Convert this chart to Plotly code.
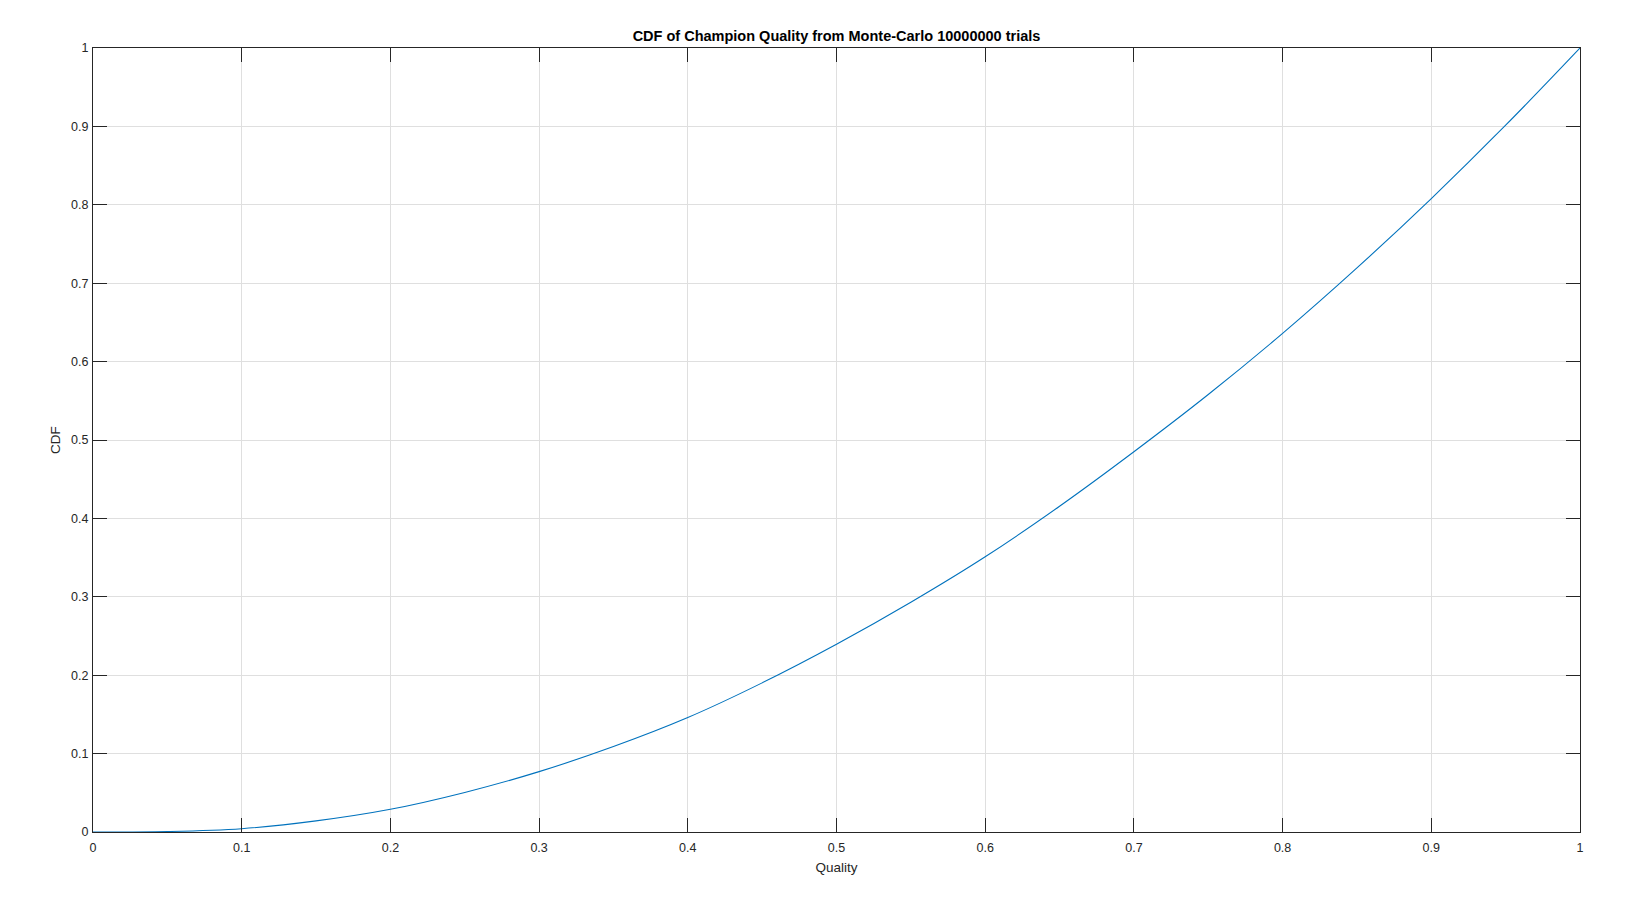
import plotly.graph_objects as go

# Data
quality = [0.0, 0.05, 0.1, 0.15, 0.2, 0.25, 0.3, 0.35, 0.4, 0.45, 0.5,
           0.55, 0.6, 0.65, 0.7, 0.75, 0.8, 0.85, 0.9, 0.95, 1.0]
cdf = [0.0, 0.0006, 0.0042, 0.0142, 0.029, 0.0505, 0.077, 0.109, 0.146, 0.1902, 0.2394,
       0.293, 0.351, 0.4155, 0.485, 0.558, 0.636, 0.7195, 0.808, 0.9015, 1.0]

tick_vals = [0, 0.1, 0.2, 0.3, 0.4, 0.5, 0.6, 0.7, 0.8, 0.9, 1]
tick_text = ["0", "0.1", "0.2", "0.3", "0.4", "0.5", "0.6", "0.7", "0.8", "0.9", "1"]

title_text = "CDF of Champion Quality from Monte-Carlo 10000000 trials"
x_label = "Quality"
y_label = "CDF"

AX = "#262626"
GRID = "#dfdfdf"
FONT = "Liberation Sans, Arial, sans-serif"

# page has an 8px body margin, so the figure is sized to fit the window
W, H = 1610, 881

fig = go.Figure()
fig.add_trace(go.Scatter(
    x=quality, y=cdf, mode="lines",
    line=dict(color="#0072BD", width=1.1, shape="spline", smoothing=1.0),
    showlegend=False, hoverinfo="x+y",
))

axis_common = dict(
    range=[0, 1], tickvals=tick_vals, ticktext=tick_text,
    showline=True, linecolor=AX, linewidth=1, mirror="ticks",
    ticks="inside", ticklen=14, tickwidth=1, tickcolor=AX,
    showgrid=True, gridcolor=GRID, gridwidth=1, zeroline=False,
    tickfont=dict(family=FONT, size=12.5, color=AX),
)

fig.update_layout(
    width=W, height=H,
    margin=dict(l=85, r=38, t=40, b=57),
    paper_bgcolor="white", plot_bgcolor="white",
    title=dict(text="<b>" + title_text + "</b>", x=(836.5 - 8) / W, xanchor="center",
               y=1 - 28 / H, yanchor="middle", yref="container",
               font=dict(family=FONT, size=14.5, color="black")),
    xaxis=dict(**axis_common, ticklabelstandoff=4,
               title=dict(text=x_label, font=dict(family=FONT, size=13.5, color=AX), standoff=8)),
    yaxis=dict(**axis_common, ticklabelstandoff=1,
               title=dict(text=y_label, font=dict(family=FONT, size=13.5, color=AX), standoff=7)),
)

fig.write_html("out.html")
